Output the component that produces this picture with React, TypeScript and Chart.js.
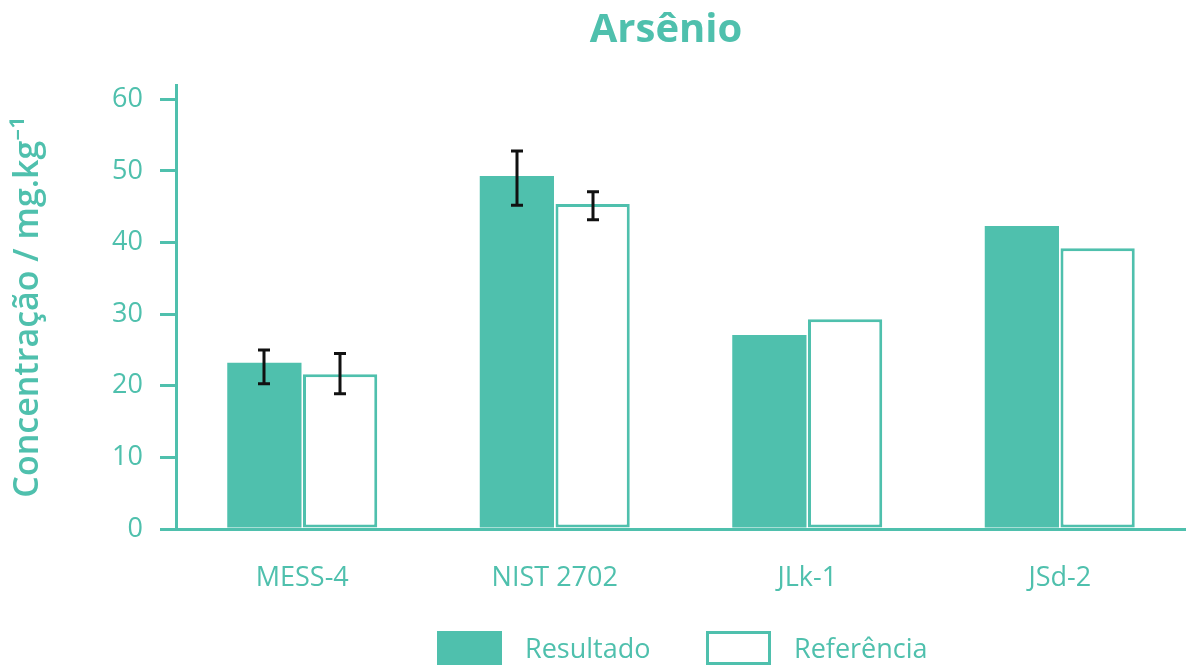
import { useEffect, useRef } from "react";
import { Chart, registerables } from "chart.js";

Chart.register(...registerables);

// Arsenic concentration in certified reference materials
const categories = ["MESS-4", "NIST 2702", "JLk-1", "JSd-2"];
const resultado = [23.2, 49.3, 27.1, 42.3];
const referencia = [21.6, 45.4, 29.3, 39.2];
// Uncertainty bounds (null = no error bar)
const resultadoLow = [20.3, 45.2, null, null];
const resultadoHigh = [25.0, 52.8, null, null];
const referenciaLow = [18.9, 43.2, null, null];
const referenciaHigh = [24.5, 47.1, null, null];
const yTicks = [0, 10, 20, 30, 40, 50, 60];

const TEAL = "#4fc0ad";
const FONT = "'Open Sans', 'Noto Sans', sans-serif";

const errorBars = {
  id: "errorBars",
  afterDatasetsDraw(chart: any) {
    const ctx = chart.ctx;
    const yScale = chart.scales.y;
    const bounds = [
      [resultadoLow, resultadoHigh],
      [referenciaLow, referenciaHigh],
    ];
    ctx.save();
    ctx.strokeStyle = "#111";
    ctx.lineWidth = 3;
    bounds.forEach(([lo, hi], di) => {
      const meta = chart.getDatasetMeta(di);
      meta.data.forEach((el: any, i: number) => {
        const l = lo[i];
        const h = hi[i];
        if (l == null || h == null) return;
        const x = Math.round(el.x);
        const yl = yScale.getPixelForValue(l);
        const yh = yScale.getPixelForValue(h);
        ctx.beginPath();
        ctx.moveTo(x, yh);
        ctx.lineTo(x, yl);
        ctx.moveTo(x - 6, yh);
        ctx.lineTo(x + 6, yh);
        ctx.moveTo(x - 6, yl);
        ctx.lineTo(x + 6, yl);
        ctx.stroke();
      });
    });
    ctx.restore();
  },
};

const titleAndLegend = {
  id: "titleAndLegend",
  afterDraw(chart: any) {
    const ctx = chart.ctx;
    ctx.save();
    ctx.fillStyle = TEAL;
    ctx.font = `bold 40px ${FONT}`;
    ctx.textAlign = "center";
    ctx.textBaseline = "middle";
    ctx.fillText("Arsênio", 666, 31);

    const boxX = [437, 706];
    const boxY = 631;
    const boxW = 65;
    const boxH = 34;
    ctx.font = `27px ${FONT}`;
    ctx.textAlign = "left";
    chart.data.datasets.forEach((ds: any, i: number) => {
      const x = boxX[i];
      ctx.fillStyle = ds.backgroundColor;
      ctx.fillRect(x, boxY, boxW, boxH);
      if (ds.borderWidth) {
        ctx.strokeStyle = ds.borderColor;
        ctx.lineWidth = 3;
        ctx.strokeRect(x + 1.5, boxY + 1.5, boxW - 3, boxH - 3);
      }
      ctx.fillStyle = TEAL;
      ctx.fillText(ds.label, x + boxW + 23, boxY + 19);
    });
    ctx.restore();
  },
};

export default function App() {
  const ref = useRef<HTMLCanvasElement>(null);

  useEffect(() => {
    const chart = new Chart(ref.current as HTMLCanvasElement, {
      type: "bar",
      data: {
        labels: categories,
        datasets: [
          {
            label: "Resultado",
            data: resultado,
            backgroundColor: TEAL,
            borderWidth: 0,
            categoryPercentage: 0.6,
            barPercentage: 0.98,
          },
          {
            label: "Referência",
            data: referencia,
            backgroundColor: "#ffffff",
            borderColor: TEAL,
            borderWidth: 3,
            borderSkipped: false,
            categoryPercentage: 0.6,
            barPercentage: 0.98,
          },
        ],
      },
      options: {
        responsive: false,
        animation: false,
        layout: { padding: { top: 85, right: 0, bottom: 0, left: 0 } },
        plugins: {
          legend: { display: false },
          title: { display: false },
          tooltip: { enabled: false },
        },
        scales: {
          x: {
            grid: { display: false, drawTicks: false },
            border: { display: true, color: TEAL, width: 3 },
            ticks: { color: TEAL, font: { family: FONT, size: 27 }, padding: 33 },
            afterFit: (s: any) => {
              s.height = 136;
            },
          },
          y: {
            min: 0,
            max: 62,
            afterBuildTicks: (s: any) => {
              s.ticks = yTicks.map((v) => ({ value: v }));
            },
            ticks: { color: TEAL, font: { family: FONT, size: 27 }, padding: 17 },
            grid: { drawOnChartArea: false, drawTicks: true, tickLength: 16, color: TEAL, lineWidth: 3 },
            border: { color: TEAL, width: 3 },
            title: {
              display: true,
              text: "Concentração / mg.kg⁻¹",
              color: TEAL,
              font: { family: FONT, size: 34, weight: 600 },
              padding: { top: 8, bottom: 0 },
            },
            afterFit: (s: any) => {
              s.width = 176;
            },
          },
        },
      },
      plugins: [errorBars, titleAndLegend],
    });
    return () => chart.destroy();
  }, []);

  return (
    <div style={{ position: "fixed", left: 0, top: 0, width: 1186, height: 665, background: "#fff" }}>
      <canvas ref={ref} width={1186} height={665} />
    </div>
  );
}
